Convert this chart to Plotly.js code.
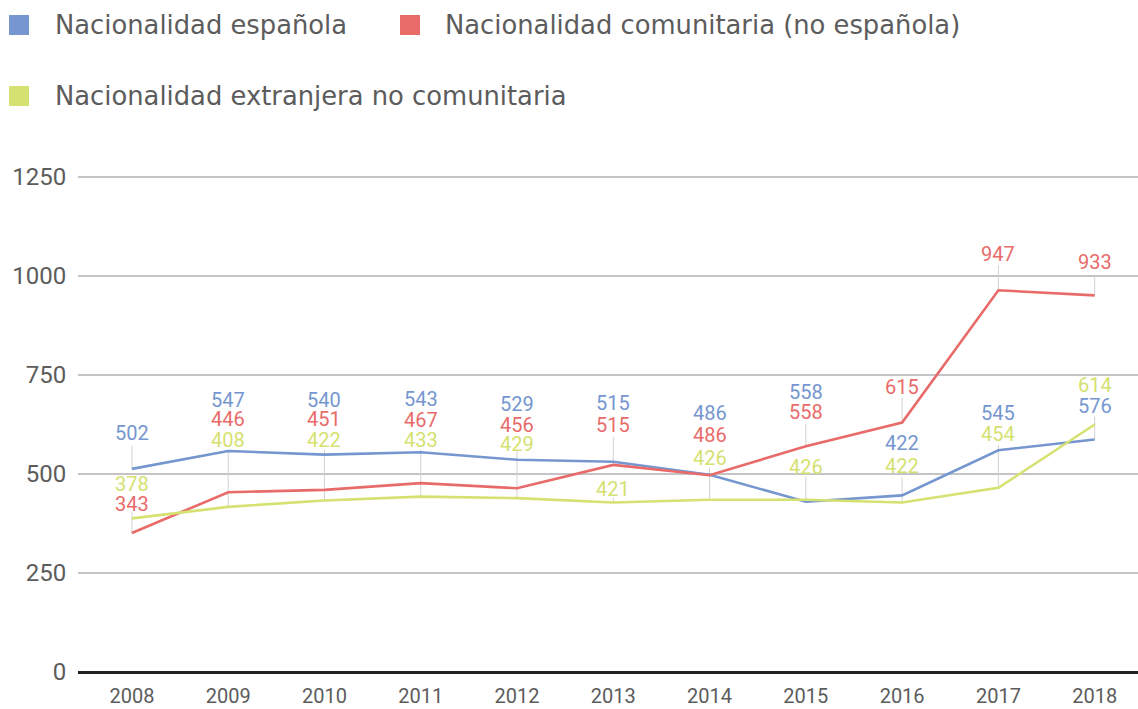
<!DOCTYPE html>
<html>
<head>
<meta charset="utf-8">
<script src="https://cdn.plot.ly/plotly-3.0.1.min.js"></script>
<style>html,body{margin:0;padding:0;background:#fff;}#chart{width:1138px;height:709px;}</style>
</head>
<body>
<div id="chart"></div>
<script>
// ---- data ----
const years = [2008, 2009, 2010, 2011, 2012, 2013, 2014, 2015, 2016, 2017, 2018];
const seriesNames = ['Nacionalidad española', 'Nacionalidad comunitaria (no española)', 'Nacionalidad extranjera no comunitaria'];
// plotted line values (as drawn)
const espanola = [513, 558, 549, 555, 536, 531, 498, 430, 446, 560, 587];
const comunitaria = [351, 454, 460, 477, 464, 523, 497, 570, 630, 964, 951];
const noComunitaria = [388, 417, 433, 443, 439, 428, 435, 435, 428, 465, 625];
// data labels as printed
const labelsEspanola = [502, 547, 540, 543, 529, 515, 486, 558, 422, 545, 576];
const labelsComunitaria = [343, 446, 451, 467, 456, 515, 486, 558, 615, 947, 933];
const labelsNoComunitaria = [378, 408, 422, 433, 429, 421, 426, 426, 422, 454, 614];
const yTicks = [0, 250, 500, 750, 1000, 1250];

// ---- styling / layout helpers (not data) ----
const colors = ['#7596cf', '#e86b6a', '#d5e170'];
const labelShift = [
  [36, 51, 55, 53, 56, 59, 62, 110, 52, 37, 34],
  [29, 73, 71, 63, 63, 40, 40, 34, 36, 36, 33],
  [34, 67, 61, 57, 54, 14, 42, 33, 37, 54, 40]
];
// leader lines: [year index, series index, length in px upward from the point]
const leaders = [[0,0,23],[0,1,21],[1,2,57],[2,2,51],[3,2,47],[4,2,47],[5,1,28],[5,2,5],[6,2,32],
  [7,1,22],[7,0,25],[8,1,25],[8,2,25],[9,1,25],[9,2,43],[10,1,19],[10,0,23]];

const W = 1138, H = 709, M = {l: 78, r: 0, t: 175, b: 35};
const PW = W - M.l - M.r, PH = H - M.t - M.b;
const px2x = p => (p - M.l) / PW;
const px2y = p => (H - M.b - p) / PH;

const values = [espanola, comunitaria, noComunitaria];
const labelTexts = [labelsEspanola, labelsComunitaria, labelsNoComunitaria];
const FONT = 'Roboto, "Open Sans", sans-serif';
const LEGEND_FONT = '"DejaVu Sans", "Open Sans", sans-serif';

const traces = values.map((v, i) => ({
  type: 'scatter', mode: 'lines', x: years, y: v, name: seriesNames[i],
  line: {color: colors[i], width: 2.6}, showlegend: false, hoverinfo: 'x+y+name'
}));

const annotations = [];
values.forEach((v, s) => {
  v.forEach((val, i) => {
    annotations.push({
      x: years[i], y: val, xref: 'x', yref: 'y', showarrow: false,
      yshift: labelShift[s][i], text: String(labelTexts[s][i]),
      font: {family: FONT, size: 20, color: colors[s]}, xanchor: 'center', yanchor: 'middle'
    });
  });
});

const shapes = leaders.map(([i, s, len]) => ({
  type: 'line', xref: 'x', yref: 'y', ysizemode: 'pixel', yanchor: values[s][i],
  x0: years[i], x1: years[i], y0: 0, y1: len, layer: 'between',
  line: {color: '#d2d2d4', width: 1}
}));

// legend (squares + text)
const legendPos = [{sx: 9, tx: 53, cy: 25}, {sx: 400, tx: 443, cy: 25}, {sx: 9, tx: 53, cy: 96}];
legendPos.forEach((p, i) => {
  shapes.push({type: 'rect', xref: 'paper', yref: 'paper',
    x0: px2x(p.sx), x1: px2x(p.sx + 20), y0: px2y(p.cy + 10), y1: px2y(p.cy - 10),
    fillcolor: colors[i], line: {width: 0}});
  annotations.push({xref: 'paper', yref: 'paper', x: px2x(p.tx), y: px2y(p.cy),
    xanchor: 'left', yanchor: 'middle', showarrow: false, text: seriesNames[i],
    font: {family: LEGEND_FONT, size: 25.8, color: '#5c5c5c'}});
});

const layout = {
  width: W, height: H, margin: M, paper_bgcolor: '#fff', plot_bgcolor: '#fff',
  showlegend: false,
  xaxis: {range: [2007.44, 2018.45], tickvals: years, ticktext: years.map(String),
    showgrid: false, zeroline: false, showline: false, ticks: 'outside', ticklen: 4,
    tickcolor: 'rgba(0,0,0,0)', tickfont: {family: FONT, size: 20, color: '#5c5c5c'}, fixedrange: true},
  yaxis: {range: [-5, 1255], tickvals: yTicks, ticktext: yTicks.map(String),
    showgrid: true, gridcolor: '#c4c4c7', gridwidth: 2, zeroline: true, zerolinecolor: '#222',
    zerolinewidth: 3, showline: false, ticks: 'outside', ticklen: 6, tickcolor: 'rgba(0,0,0,0)',
    tickfont: {family: FONT, size: 24, color: '#5c5c5c'}, fixedrange: true},
  annotations: annotations, shapes: shapes
};

Plotly.newPlot('chart', traces, layout, {displayModeBar: false, staticPlot: true});
</script>
</body>
</html>
